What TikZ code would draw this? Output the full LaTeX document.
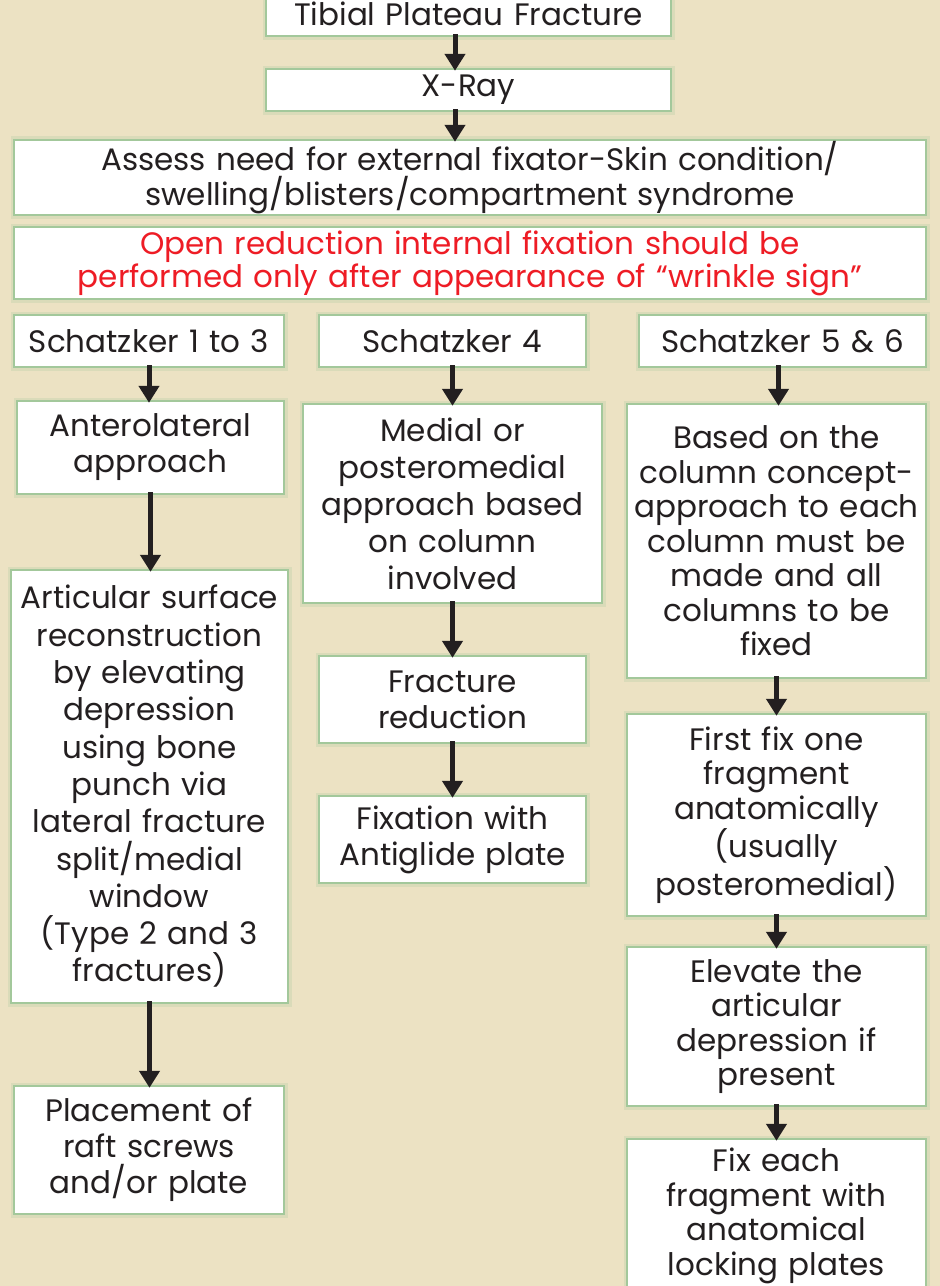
\documentclass[tikz,border=0pt]{standalone}
\usepackage{fontspec}
\setmainfont{Poppins}
\usetikzlibrary{arrows.meta}
\definecolor{bg}{HTML}{ECE2C3}
\definecolor{glow}{HTML}{3FA565}
\definecolor{ink}{HTML}{231F20}
\definecolor{redtxt}{HTML}{EE1C25}
\tikzset{
  box/.style={fill=white, inner sep=0pt, align=center, text=ink,
    font=\fontsize{31}{36}\selectfont,
    preaction={draw=glow, line width=9pt, draw opacity=0.10},
    preaction={draw=glow, line width=4pt, draw opacity=0.35}},
  tight/.style={font=\fontsize{31}{34.5}\selectfont},
  arr/.style={draw=ink, line width=5pt, -{Triangle[width=20pt,length=17pt]}, shorten <=-1pt, shorten >=-1pt}
}
\begin{document}
\begin{tikzpicture}[x=1pt,y=1pt]
\fill[bg] (0,0) rectangle (940,-1286);
\useasboundingbox (0,0) rectangle (940,-1286);

\node[box, minimum width=403pt, minimum height=42pt, text width=399pt] (n1) at (468.5,-14) {Tibial Plateau Fracture};
\node[box, minimum width=403pt, minimum height=40pt, text width=399pt] (n2) at (468.5,-90) {X-Ray};
\node[box, minimum width=910pt, minimum height=69pt, text width=900pt, font=\fontsize{31}{32}\selectfont] (n3) at (470,-177.5) {Assess need for external fixator-Skin condition/\\swelling/blisters/compartment syndrome};
\node[box, minimum width=910pt, minimum height=70pt, text width=900pt, font=\fontsize{31}{33}\selectfont, text=redtxt] (n4) at (470,-263) {Open reduction internal fixation should be\\performed only after appearance of “wrinkle sign”};

\node[box, minimum width=268pt, minimum height=50pt, text width=266pt] (s1) at (149,-341) {Schatzker 1 to 3};
\node[box, minimum width=265pt, minimum height=50pt, text width=263pt] (s2) at (452.5,-341) {Schatzker 4};
\node[box, minimum width=285pt, minimum height=50pt, text width=283pt] (s3) at (782.5,-341) {Schatzker 5 \& 6};

\node[box, minimum width=265pt, minimum height=91pt, text width=263pt] (a1) at (150.5,-447.5) {Anterolateral\\approach};
\node[box, minimum width=275pt, minimum height=431pt, text width=273pt, font=\fontsize{31}{37.3}\selectfont] (a2) at (149.5,-786.5) {Articular surface\\reconstruction\\by elevating\\depression\\using bone\\punch via\\lateral fracture\\split/medial\\window\\(Type 2 and 3\\fractures)};
\node[box, minimum width=268pt, minimum height=126pt, text width=266pt] (a3) at (149,-1150) {Placement of\\raft screws\\and/or plate};

\node[box, minimum width=297pt, minimum height=197pt, text width=295pt, font=\fontsize{31}{37}\selectfont] (b1) at (452.5,-503.5) {Medial or\\posteromedial\\approach based\\on column\\involved};
\node[box, minimum width=265pt, minimum height=85pt, text width=263pt] (b2) at (452.5,-699.5) {Fracture\\reduction};
\node[box, minimum width=265pt, minimum height=85pt, text width=263pt] (b3) at (452.5,-839.5) {Fixation with\\Antiglide plate};

\node[box, tight, minimum width=297pt, minimum height=272pt, text width=295pt] (c1) at (776.5,-541) {Based on the\\column concept-\\approach to each\\column must be\\made and all\\columns to be\\fixed};
\node[box, tight, minimum width=297pt, minimum height=200pt, text width=295pt] (c2) at (776.5,-815) {First fix one\\fragment\\anatomically\\(usually\\posteromedial)};
\node[box, tight, minimum width=297pt, minimum height=157pt, text width=295pt] (c3) at (776.5,-1026.5) {Elevate the\\articular\\depression if\\present};
\node[box, tight, minimum width=297pt, minimum height=152pt, text width=295pt] (c4) at (776.5,-1216) {Fix each\\fragment with\\anatomical\\locking plates};

\draw[arr] ([xshift=-13.5pt]n1.south) -- ([xshift=-13.5pt]n1.south |- n2.north);
\draw[arr] ([xshift=-13.5pt]n2.south) -- ([xshift=-13.5pt]n2.south |- n3.north);

\draw[arr] (s1.south) -- (s1.south |- a1.north);
\draw[arr] (a1.south) -- (a1.south |- a2.north);
\draw[arr] (a2.south) -- (a2.south |- a3.north);

\draw[arr] (s2.south) -- (s2.south |- b1.north);
\draw[arr] (b1.south) -- (b1.south |- b2.north);
\draw[arr] (b2.south) -- (b2.south |- b3.north);

\draw[arr] ([xshift=-4pt]s3.south) -- ([xshift=-4pt]s3.south |- c1.north);
\draw[arr] (c1.south) -- (c1.south |- c2.north);
\draw[arr] (c2.south) -- (c2.south |- c3.north);
\draw[arr] (c3.south) -- (c3.south |- c4.north);
\end{tikzpicture}
\end{document}
